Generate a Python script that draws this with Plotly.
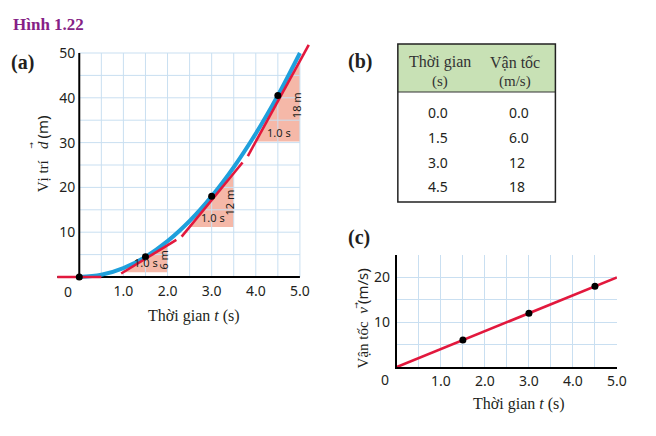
import plotly.graph_objects as go

W, H = 656, 436

# ---------------- data ----------------
time_s = [0.0, 1.5, 3.0, 4.5]
position_m = [0.0, 4.5, 18.0, 40.5]
velocity_ms = [0.0, 6.0, 12.0, 18.0]
time_labels = ["0.0", "1.5", "3.0", "4.5"]
velocity_labels = ["0.0", "6.0", "12", "18"]

# position curve
curve_t = [0.0, 0.5, 1.0, 1.5, 2.0, 2.5, 3.0, 3.5, 4.0, 4.5, 5.0]
curve_d = [0.0, 0.5, 2.0, 4.5, 8.0, 12.5, 18.0, 24.5, 32.0, 40.5, 50.0]

# extent (in s) of each drawn tangent segment
tangent_start = [-0.5, 0.95, 2.32, 3.82]
tangent_end = [0.5, 2.2, 3.7, 5.2]

# velocity line of panel (c)
vel_line_t = [0.0, 5.0]
vel_line_v = [0.0, 20.0]

x_tick_vals = [1, 2, 3, 4, 5]
x_tick_text = ["1.0", "2.0", "3.0", "4.0", "5.0"]
a_y_ticks = [10, 20, 30, 40, 50]
c_y_ticks = [10, 20]

# ---------------- styles ----------------
BLUE = "#1FA0DC"
RED = "#E2183D"
PINK = "#F5B8A8"
GRID = "#C9DFF1"
INK = "#231F20"
SANS = "Noto Sans"
SERIF = "Liberation Serif"
SHIFT = 0.07  # small horizontal gap of tangents from the curve


def px(x):
    return x / W


def py(y):
    return 1 - y / H


# panel (a) geometry
A_X0, A_X1 = 58.1, 318.0      # pixel of t=-0.5 and t=5.3
A_Y0, A_Y1 = 281.48, 39.56    # pixel of d=-1 and d=53
A_ORIGIN_X = 80.5
# panel (c) geometry
C_X0, C_X1 = 403.0, 626.5
C_Y0, C_Y1 = 367.0, 255.0

fig = go.Figure()

# ---- panel (a) traces ----
fig.add_trace(go.Scatter(x=curve_t, y=curve_d, mode="lines",
                         line=dict(color=BLUE, width=4, shape="spline"),
                         xaxis="x", yaxis="y", hoverinfo="skip"))

tx, ty = [], []
for ti, di, vi, s, e in zip(time_s, position_m, velocity_ms, tangent_start, tangent_end):
    for t in (s, e):
        tx.append(t)
        ty.append(di + vi * (t - ti - SHIFT))
    tx.append(None)
    ty.append(None)
fig.add_trace(go.Scatter(x=tx, y=ty, mode="lines",
                         line=dict(color=RED, width=2.6),
                         xaxis="x", yaxis="y", hoverinfo="skip"))

fig.add_trace(go.Scatter(x=time_s, y=position_m, mode="markers",
                         marker=dict(color="black", size=7),
                         xaxis="x", yaxis="y", hoverinfo="skip"))

# ---- panel (c) traces ----
fig.add_trace(go.Scatter(x=vel_line_t, y=vel_line_v, mode="lines",
                         line=dict(color=RED, width=2.6),
                         xaxis="x2", yaxis="y2", hoverinfo="skip"))
fig.add_trace(go.Scatter(x=time_s[1:], y=velocity_ms[1:], mode="markers",
                         marker=dict(color="black", size=7),
                         xaxis="x2", yaxis="y2", hoverinfo="skip"))

shapes = []
annotations = []

# slope triangles (below grid)
for ti, di, vi in zip(time_s, position_m, velocity_ms):
    if vi == 0:
        continue
    tl, tr = ti - 0.5, ti + 0.5
    dl = di + vi * (tl - ti - SHIFT)
    dr = di + vi * (tr - ti - SHIFT)
    shapes.append(dict(type="path", xref="x", yref="y",
                       path=f"M {tl},{dl} L {tr},{dl} L {tr},{dr} Z",
                       fillcolor=PINK, line=dict(width=0), layer="below"))
    annotations.append(dict(xref="x", yref="y", x=ti + 0.02, y=dl, yanchor="bottom",
                            xanchor="center", yshift=0, showarrow=False,
                            text="1.0 s", font=dict(family=SANS, size=11, color=INK)))
    annotations.append(dict(xref="x", yref="y", x=tr, y=dl + 0.45 * (dr - dl),
                            xanchor="center", yanchor="middle", xshift=-4,
                            textangle=-90, showarrow=False,
                            text=f"{vi:.0f} m", font=dict(family=SANS, size=11, color=INK)))

# grid of panel (a) over t in [0,5], d in [0,50]
for k in range(1, 11):
    t = 0.5 * k
    shapes.append(dict(type="line", xref="x", yref="y", x0=t, x1=t, y0=0, y1=50,
                       line=dict(color=GRID, width=1), layer="below"))
for k in range(1, 11):
    d = 5 * k
    shapes.append(dict(type="line", xref="x", yref="y", x0=0, x1=5, y0=d, y1=d,
                       line=dict(color=GRID, width=1), layer="below"))
# axis lines of panel (a)
shapes.append(dict(type="line", xref="x", yref="y", x0=-0.5, x1=5.0, y0=0, y1=0,
                   line=dict(color="black", width=2), layer="below"))
shapes.append(dict(type="line", xref="x", yref="y", x0=0, x1=0, y0=0, y1=50,
                   line=dict(color="black", width=2), layer="below"))

# "0" origin labels
annotations.append(dict(xref="x", yref="y", x=-0.25, y=0, yanchor="top", yshift=-3,
                        showarrow=False, text="0", font=dict(family=SANS, size=14, color=INK)))
annotations.append(dict(xref="paper", yref="paper", x=px(391), y=py(379),
                        xanchor="center", yanchor="middle",
                        showarrow=False, text="0", font=dict(family=SANS, size=14, color=INK)))

# ---- table (b) ----
TB_L, TB_R, TB_T, TB_HB, TB_B = 404, 564, 44, 92, 202
shapes.append(dict(type="rect", xref="paper", yref="paper",
                   x0=px(TB_L), x1=px(TB_R), y0=py(TB_HB), y1=py(TB_T),
                   fillcolor="#C8E1B5", line=dict(width=0), layer="above"))
shapes.append(dict(type="line", xref="paper", yref="paper",
                   x0=px(TB_L), x1=px(TB_R), y0=py(TB_HB), y1=py(TB_HB),
                   line=dict(color="#333333", width=1), layer="above"))
shapes.append(dict(type="rect", xref="paper", yref="paper",
                   x0=px(TB_L), x1=px(TB_R), y0=py(TB_B), y1=py(TB_T),
                   line=dict(color="#222222", width=1.5), layer="above"))

header_top = ["Thời gian", "Vận tốc"]
header_unit = ["(s)", "(m/s)"]
header_cx = [447, 523]
for txt, unit, cx in zip(header_top, header_unit, header_cx):
    annotations.append(dict(xref="paper", yref="paper", x=px(cx), y=py(62),
                            xanchor="center", yanchor="middle", showarrow=False,
                            text=txt, font=dict(family=SERIF, size=16, color="#333333")))
    annotations.append(dict(xref="paper", yref="paper", x=px(cx), y=py(82),
                            xanchor="center", yanchor="middle", showarrow=False,
                            text=unit, font=dict(family=SERIF, size=15, color="#333333")))
for i, (tl_, vl_) in enumerate(zip(time_labels, velocity_labels)):
    yy = 112 + 25 * i
    annotations.append(dict(xref="paper", yref="paper", x=px(433), y=py(yy),
                            xanchor="left", yanchor="middle", showarrow=False,
                            text=tl_, font=dict(family=SANS, size=14, color=INK)))
    annotations.append(dict(xref="paper", yref="paper", x=px(515), y=py(yy),
                            xanchor="left", yanchor="middle", showarrow=False,
                            text=vl_, font=dict(family=SANS, size=14, color=INK)))

# ---- titles and labels ----
annotations.append(dict(xref="paper", yref="paper", x=px(11), y=py(24),
                        xanchor="left", yanchor="middle", showarrow=False,
                        text="<b>Hình 1.22</b>",
                        font=dict(family=SERIF, size=17, color="#861F86")))
for lab, xx, yy in [("(a)", 9, 62), ("(b)", 351, 61), ("(c)", 351, 237)]:
    annotations.append(dict(xref="paper", yref="paper", x=px(xx), y=py(yy),
                            xanchor="left", yanchor="middle", showarrow=False,
                            text=f"<b>{lab}</b>",
                            font=dict(family=SERIF, size=20, color=INK)))

annotations.append(dict(xref="paper", yref="paper", x=px(197), y=py(316),
                        xanchor="center", yanchor="middle", showarrow=False,
                        text="Thời gian <i>t</i> (s)",
                        font=dict(family=SERIF, size=16, color=INK)))
annotations.append(dict(xref="paper", yref="paper", x=px(527), y=py(404),
                        xanchor="center", yanchor="middle", showarrow=False,
                        text="Thời gian <i>t</i> (s)",
                        font=dict(family=SERIF, size=16, color=INK)))
annotations.append(dict(xref="paper", yref="paper", x=px(43), y=py(154),
                        xanchor="center", yanchor="middle", showarrow=False, textangle=-90,
                        text="Vị trí\u00a0\u00a0\u00a0<i>d</i>\u2009<span style=\"font-family:'Noto Sans'\">(m)</span>",
                        font=dict(family=SERIF, size=15, color=INK)))
annotations.append(dict(xref="paper", yref="paper", x=px(368), y=py(318),
                        xanchor="center", yanchor="middle", showarrow=False, textangle=-90,
                        text="Vận tốc\u00a0\u00a0<i>v</i>\u2009<span style=\"font-family:'Noto Sans'\">(m/s)</span>",
                        font=dict(family=SERIF, size=15, color=INK)))
# vector arrows over d and v
annotations.append(dict(xref="paper", yref="paper", x=px(32), y=py(145),
                        xanchor="center", yanchor="middle", showarrow=False, textangle=-90,
                        text="→", font=dict(family="DejaVu Sans", size=8, color=INK)))
annotations.append(dict(xref="paper", yref="paper", x=px(362), y=py(305),
                        xanchor="center", yanchor="middle", showarrow=False, textangle=-90,
                        text="→", font=dict(family="DejaVu Sans", size=8, color=INK)))

tickfont = dict(family=SANS, size=14, color=INK)

fig.update_layout(
    width=W, height=H,
    margin=dict(l=0, r=0, t=0, b=0),
    paper_bgcolor="white", plot_bgcolor="rgba(0,0,0,0)",
    showlegend=False, hovermode=False,
    shapes=shapes, annotations=annotations,
    xaxis=dict(domain=[px(A_X0), px(A_X1)], range=[-0.5, 5.3], anchor="y",
               tickvals=x_tick_vals, ticktext=x_tick_text, tickfont=tickfont,
               showgrid=False, zeroline=False, showline=False, ticks=""),
    yaxis=dict(domain=[py(A_Y0), py(A_Y1)], range=[-1, 53], anchor="free",
               position=px(A_ORIGIN_X), tickvals=a_y_ticks, tickfont=tickfont,
               ticklabelstandoff=4,
               showgrid=False, zeroline=False, showline=False, ticks=""),
    xaxis2=dict(domain=[px(C_X0), px(C_X1)], range=[0, 5], anchor="y2",
                tickvals=x_tick_vals, ticktext=x_tick_text, tickfont=tickfont,
                showgrid=True, gridcolor=GRID, gridwidth=1,
                minor=dict(dtick=0.5, tick0=0, showgrid=True, gridcolor=GRID, gridwidth=1),
                zeroline=False, showline=True, linecolor="black", linewidth=2, ticks=""),
    yaxis2=dict(domain=[py(C_Y0), py(C_Y1)], range=[0, 25], anchor="x2",
                tickvals=c_y_ticks, tickfont=tickfont, ticklabelstandoff=2,
                showgrid=True, gridcolor=GRID, gridwidth=1,
                minor=dict(dtick=5, tick0=0, showgrid=True, gridcolor=GRID, gridwidth=1),
                zeroline=False, showline=True, linecolor="black", linewidth=2, ticks=""),
)

fig.write_html(
    "out.html",
    config={"displayModeBar": False, "staticPlot": True},
    post_script=("document.documentElement.style.margin='0px';"
                 "document.body.style.margin='0px';"
                 "document.documentElement.style.overflow='hidden';"
                 "document.body.style.overflow='hidden';"),
)
